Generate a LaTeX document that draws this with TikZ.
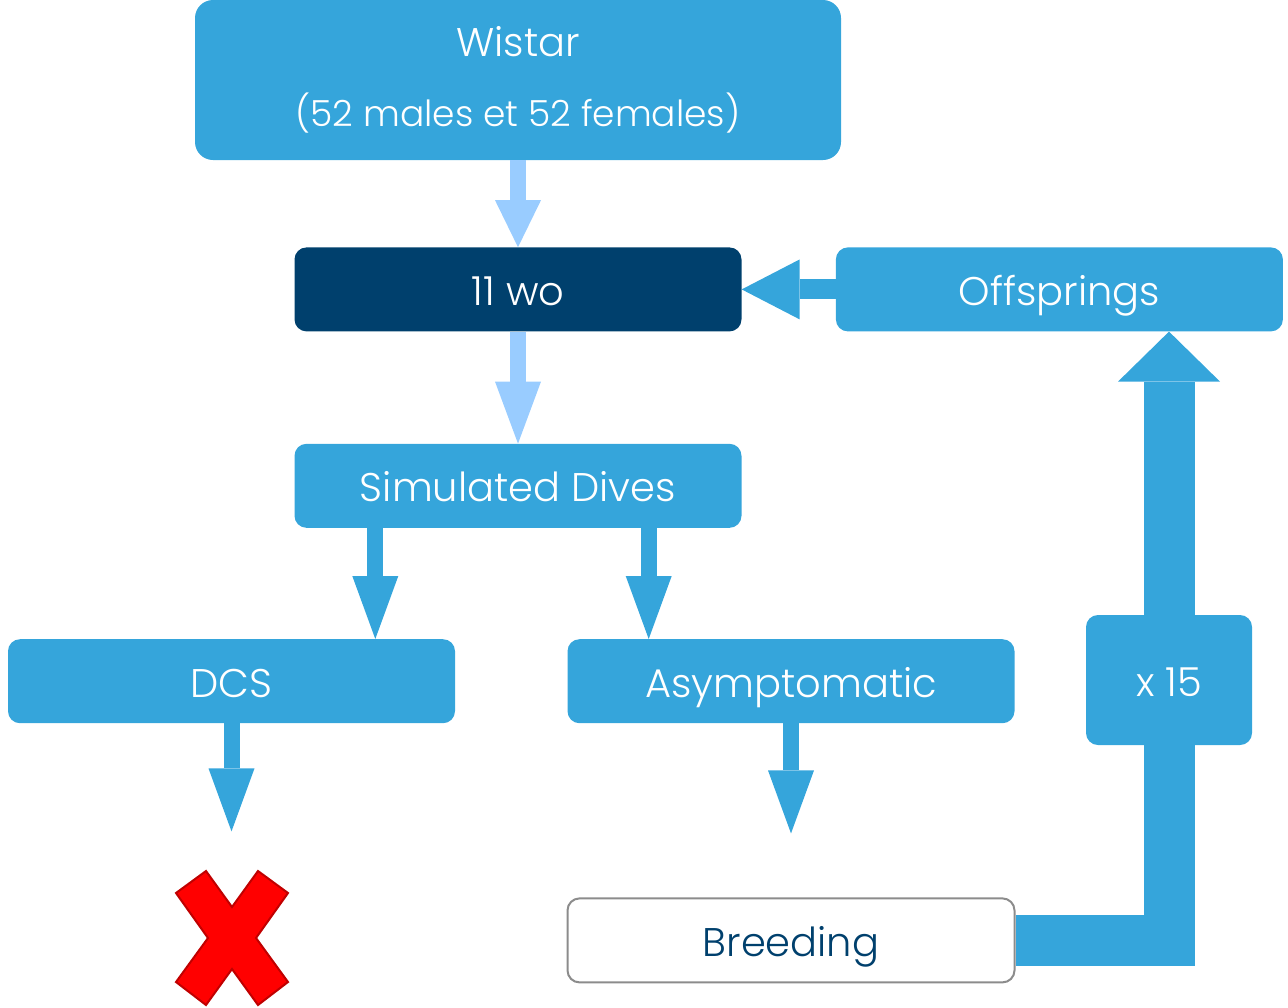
\documentclass[tikz,border=0pt]{standalone}
\usepackage{fontspec}
\setmainfont{Poppins Light}
\usetikzlibrary{positioning,arrows.meta}
\definecolor{boxblue}{HTML}{35A5DB}
\definecolor{paleblue}{HTML}{99CCFF}
\definecolor{navy}{HTML}{00406D}
\definecolor{edgegrey}{HTML}{8C8C8C}
\definecolor{crossred}{HTML}{FF0000}
\definecolor{crossedge}{HTML}{C00000}
\tikzset{
  panel/.style={rectangle, rounded corners=12pt, fill=boxblue, text=white, inner sep=0pt, font=\fontsize{40}{70}\selectfont},
  box/.style={panel, minimum width=447pt, minimum height=84pt, text height=36pt, text depth=4pt},
  palearrow/.style={paleblue, line width=16pt, -{Triangle[width=46pt,length=62pt,line width=0pt]}},
  bluearrow/.style={boxblue, line width=16pt, -{Triangle[width=46pt,length=63pt,line width=0pt]}}
}
\begin{document}
\begin{tikzpicture}[x=1pt,y=-1pt]
\useasboundingbox (0,0) rectangle (1288,1007);
\node[panel, minimum width=646pt, minimum height=160pt, rounded corners=18pt, align=center] (wistar) at (518,80) {Wistar\\\fontsize{36}{70}\selectfont(52 males et 52 females)};
\node[box, below=87pt of wistar, fill=navy] (wo) {11 wo};
\node[box, below=112pt of wo] (dives) {Simulated Dives};
\node[box, right=94pt of wo] (offspr) {Offsprings};
\node[box, below=111pt of dives, xshift=-286.5pt] (dcs) {DCS};
\node[box, below=111pt of dives, xshift=273pt] (asym) {Asymptomatic};
\node[box, below=174pt of asym, fill=white, draw=edgegrey, line width=2pt, text=navy] (breed) {Breeding};
\coordinate (dcstop) at ([xshift=81pt]dives.south west);
\coordinate (asymtop) at ([xshift=-93pt]dives.south east);
\coordinate (dcsend) at ([yshift=-108pt]dcs.south);
\coordinate (asymend) at ([yshift=-110pt]asym.south);
\coordinate (loop) at (1169,680);
\coordinate (cross) at (232,938);
\draw[palearrow, -{Triangle[width=46pt,length=47pt,line width=0pt]}] (wistar.south) -- (wo.north);
\draw[palearrow] (wo.south) -- (dives.north);
\draw[bluearrow] (dcstop) -- (dcstop |- dcs.north);
\draw[bluearrow] (asymtop) -- (asymtop |- asym.north);
\draw[bluearrow] (dcs.south) -- (dcsend);
\draw[bluearrow] (asym.south) -- (asymend);
\draw[boxblue, line width=20pt, -{Triangle[width=60pt,length=58pt,line width=0pt]}] (offspr.west) -- (wo.east);
\draw[boxblue, line width=51pt, -{Triangle[width=102pt,length=50pt,line width=0pt]}] (breed.east) -| (offspr.south -| loop);
\node[box, minimum width=166pt, minimum height=130pt] (xfifteen) at (loop) {x 15};
\filldraw[fill=crossred, draw=crossedge, line width=2pt, shift={(cross)}]
  (-26,-67) -- (0,-31) -- (26,-67) -- (56,-45) -- (24,0) -- (56,44) -- (26,67) -- (0,31)
  -- (-26,67) -- (-56,44) -- (-24,0) -- (-56,-45) -- cycle;
\end{tikzpicture}
\end{document}
